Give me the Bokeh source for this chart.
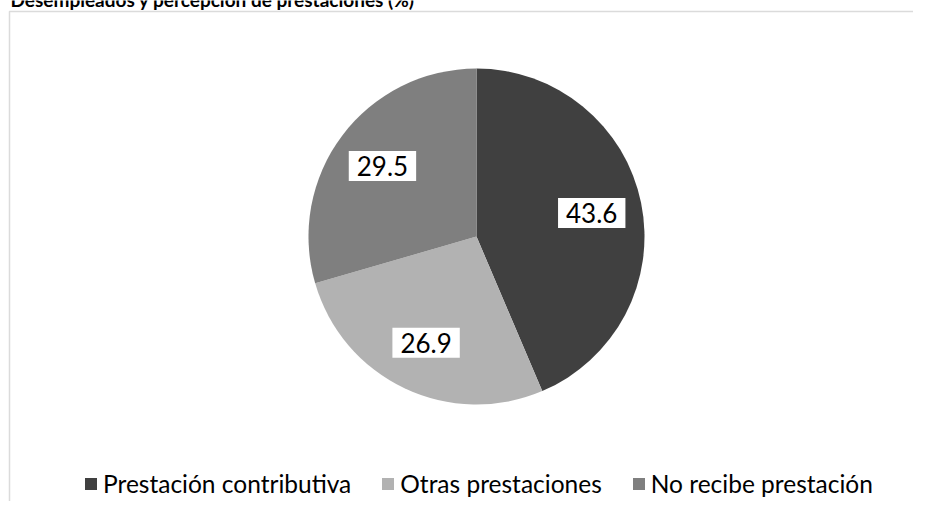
import math
from bokeh.plotting import figure
from bokeh.models import Legend, LegendItem, Range1d, BoxAnnotation
from bokeh.core.properties import value
from bokeh.embed import file_html
from bokeh.resources import INLINE

# ---- data ----
categories = ["Prestación contributiva", "Otras prestaciones", "No recibe prestación"]
values = [43.6, 26.9, 29.5]
labels = ["43.6", "26.9", "29.5"]
colors = ["#404040", "#b2b2b2", "#7f7f7f"]
title = "Desempleados y percepción de prestaciones (%)"

W, H = 913, 501
p = figure(width=W, height=H, output_backend="svg", toolbar_location=None,
           x_range=Range1d(0, W), y_range=Range1d(0, H),
           min_border=0, min_border_left=0, min_border_right=0,
           min_border_top=0, min_border_bottom=0)
p.axis.visible = False
p.grid.visible = False
p.outline_line_color = None
p.background_fill_color = "white"
p.border_fill_color = "white"

# chart frame
p.add_layout(BoxAnnotation(left=9, right=W + 20, top=H - 11, bottom=-20,
                           fill_alpha=0, line_color="#878787", line_width=1.5))

# pie
cx, cy, r = 476, H - 236, 168
total = sum(values)
cum = 0.0
renderers = []
for i, v in enumerate(values):
    a0 = math.pi / 2 - 2 * math.pi * cum / total
    a1 = math.pi / 2 - 2 * math.pi * (cum + v) / total
    rr = p.wedge(x=cx, y=cy, radius=r, start_angle=a0, end_angle=a1,
                 direction="clock", fill_color=colors[i], line_color=None)
    renderers.append(rr)
    cum += v

# data labels
lx, ly = [], []
cum = 0.0
for v in values:
    mid = 2 * math.pi * (cum + v / 2) / total
    lx.append(cx + 0.7 * r * math.sin(mid))
    ly.append(cy + 0.7 * r * math.cos(mid))
    cum += v
p.text(x=lx, y=ly, text=labels, text_align="center", text_baseline="middle",
       text_font=value("Lato"), text_font_size="26px", text_color="black",
       background_fill_color="white", padding=[8, 5])

# title (top part clipped as in the reference)
p.text(x=[10], y=[H + 1.5], text=[title], text_align="left", text_baseline="alphabetic",
       text_font=value("Lato"), text_font_size="19px", text_font_style="bold",
       text_color="black")

# legend
items = [LegendItem(label=categories[i], renderers=[renderers[i]]) for i in range(3)]
legend = Legend(items=items, orientation="horizontal", location=(83, 3),
                glyph_width=15, glyph_height=15, label_standoff=5, spacing=29,
                padding=0, margin=0, border_line_color=None, background_fill_alpha=0,
                label_text_font="Lato", label_text_font_size="24.5px",
                label_text_color="black")
p.add_layout(legend, "center")

open("out.html", "w").write(file_html(p, INLINE))
